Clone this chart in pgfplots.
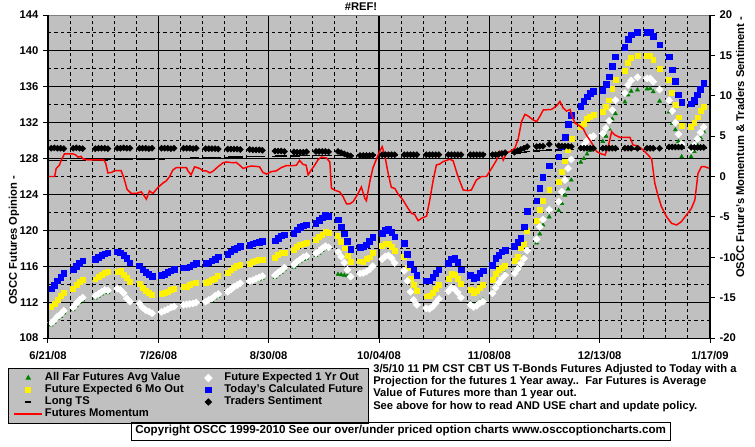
\documentclass[border=0pt]{standalone}
\usepackage{pgfplots}
\pgfplotsset{compat=1.18}
\usepackage{pgfplotstable}
\usepackage{fontspec}
\setmainfont{Liberation Sans}
\definecolor{silver}{HTML}{C0C0C0}
\definecolor{dgreen}{HTML}{008000}
\definecolor{bordergray}{HTML}{808080}
\newcommand{\lbl}{\fontsize{8.4}{10}\selectfont\bfseries}
\pgfplotsset{
 markleg/.style={legend image code/.code={\path[draw=none,fill=none] (0pt,-3pt) rectangle (21pt,3pt); \draw[##1] plot coordinates {(10.5pt,0pt)};}},
 lineleg/.style={legend image code/.code={\draw[##1] (0pt,0pt) -- (21pt,0pt);}},
}
\pgfplotstableread{
d b y w s t
1 113.5 111.5 109.7 3.5 127.75
2 113.9 111.85 110.0 3.55 127.75
3 114.4 112.3 110.4 3.5 127.76
4 114.8 112.7 110.65 3.5 127.77
5 115.2 113.05 111.05 3.45 127.78
8 115.6 113.5 111.4 3.5 127.8
9 116.0 113.9 111.85 3.55 127.8
10 116.3 114.25 112.25 3.5 127.81
11 116.6 114.45 112.5 3.45 127.82
15 116.8 114.55 112.7 3.45 127.84
16 117.0 114.85 112.9 3.5 127.84
17 117.2 115.1 113.15 3.5 127.85
18 117.4 115.3 113.35 3.5 127.85
19 117.5 115.35 113.3 3.45 127.86
22 117.6 115.4 113.5 3.5 127.88
23 117.5 115.45 113.35 3.5 127.88
24 117.25 115.1 113.0 3.55 127.89
25 116.9 114.75 112.4 3.5 127.9
26 116.4 114.25 112.05 3.5 127.9
29 116.05 114.0 111.85 3.5 127.92
30 115.6 113.55 111.4 3.5 127.92
31 115.3 113.25 111.1 3.5 127.93
32 115.1 113.05 110.95 3.45 127.93
33 114.85 112.8 110.75 3.5 127.94
36 115.0 112.95 110.9 3.5 127.96
37 115.1 113.0 111.05 3.5 127.97
38 115.3 113.15 111.2 3.5 127.98
39 115.5 113.35 111.4 3.45 127.99
40 115.65 113.45 111.5 3.5 128.0
43 115.85 113.7 111.7 3.5 128.02
44 115.85 113.72 111.75 3.5 128.03
45 115.95 113.9 111.8 3.5 128.04
46 116.15 114.1 111.85 3.45 128.05
47 116.3 114.2 111.95 3.5 128.06
50 116.3 114.15 112.05 3.45 128.08
51 116.4 114.3 112.25 3.45 128.09
52 116.6 114.45 112.4 3.45 128.1
53 116.8 114.65 112.7 3.45 128.11
54 117.05 114.9 112.9 3.4 128.12
57 117.3 115.3 113.15 3.4 128.15
58 117.6 115.55 113.4 3.4 128.16
59 117.9 115.85 113.7 3.4 128.17
60 118.05 116.0 113.9 3.4 128.18
61 118.2 116.2 114.1 3.35 128.19
64 118.35 116.3 114.35 3.35 128.2
65 118.5 116.5 114.45 3.3 128.21
66 118.6 116.6 114.6 3.3 128.22
67 118.7 116.7 114.75 3.3 128.23
68 118.75 116.75 114.9 3.25 128.24
72 118.85 116.95 115.0 3.15 128.26
73 119.1 117.25 115.3 3.15 128.27
74 119.4 117.45 115.55 3.15 128.27
75 119.5 117.55 115.85 3.1 128.28
78 119.65 117.8 116.15 3.05 128.3
79 120.05 118.2 116.5 3.0 128.3
80 120.35 118.35 116.75 3.0 128.31
81 120.5 118.55 117.0 3.0 128.31
82 120.6 118.6 117.15 3.05 128.32
85 120.8 119.0 117.45 3.1 128.33
86 121.1 119.3 117.7 3.1 128.33
87 121.4 119.55 118.0 3.1 128.34
88 121.7 119.85 118.25 3.1 128.34
89 121.6 119.7 118.1 3.05 128.35
92 121.2 119.4 117.6 3.1 128.35
93 120.4 118.7 117.05 2.95 128.36
94 119.6 118.0 116.4 2.8 128.36
95 118.75 117.2 115.6 2.65 128.37
96 117.9 116.45 114.85 2.55 128.37
99 118.1 116.55 115.2 2.6 128.38
100 118.15 116.5 115.25 2.6 128.38
101 118.4 116.8 115.4 2.6 128.39
102 118.75 117.0 115.65 2.6 128.39
103 119.2 117.45 116.0 2.65 128.4
106 119.7 118.3 116.8 2.7 128.4
107 120.0 118.5 117.1 2.7 128.4
108 120.1 118.5 117.2 2.7 128.41
109 119.8 118.15 116.9 2.7 128.41
110 119.3 117.75 116.35 2.7 128.41
113 118.55 117.1 115.5 2.7 128.42
114 117.3 115.8 114.35 2.7 128.42
115 116.2 114.65 113.15 2.7 128.42
116 115.6 113.9 112.25 2.7 128.43
117 115.0 113.25 111.7 2.7 128.43
120 114.4 112.65 111.3 2.7 128.43
121 114.4 112.75 111.25 2.7 128.44
122 114.8 113.0 111.5 2.7 128.44
123 115.2 113.5 111.9 2.7 128.44
124 115.6 113.9 112.35 2.7 128.45
127 116.3 114.65 113.2 2.7 128.45
128 116.75 115.2 113.6 2.7 128.46
129 116.9 115.0 113.45 2.7 128.46
130 116.45 114.65 113.05 2.7 128.46
131 115.6 114.0 112.5 2.7 128.47
134 115.0 113.4 111.7 2.7 128.47
135 114.65 113.0 111.45 2.7 128.48
136 114.75 113.3 111.6 2.7 128.48
137 115.2 113.65 111.9 2.7 128.49
138 115.5 113.9 112.05 2.7 128.49
141 116.1 114.45 113.0 2.7 128.5
142 116.9 115.2 113.6 2.7 128.5
143 117.25 115.65 114.15 2.75 128.51
144 117.6 115.8 114.65 2.85 128.52
145 117.8 116.0 115.0 2.95 128.53
148 118.2 116.6 115.2 3.0 128.55
149 118.65 117.05 115.7 3.2 128.6
150 119.1 118.1 116.3 3.35 128.65
151 120.4 118.55 116.85 3.5 128.7
152 122.1 120.0 117.75 3.7 128.75
155 123.3 121.1 119.0 3.7 128.85
156 124.7 122.3 120.4 3.75 128.9
157 125.9 123.3 121.2 3.75 128.92
159 127.2 124.5 122.3 4.0 128.95
162 128.2 125.4 123.2 3.8 128.97
163 129.3 126.5 124.3 3.75 128.98
164 130.4 127.7 125.6 3.75 129.0
165 131.8 129.0 126.9 3.75 129.0
166 132.8 130.2 127.9 3.7 129.0
169 133.8 131.5 129.1 3.5 129.0
170 134.4 131.9 129.5 3.5 129.0
171 134.9 132.4 130.0 3.5 129.02
172 135.3 132.7 130.35 3.5 129.02
173 135.5 132.85 130.5 3.5 129.02
176 135.6 133.2 130.8 3.5 129.03
177 136.3 133.8 131.4 3.5 129.03
178 137.1 134.5 132.2 3.5 129.04
179 138.3 135.8 133.4 3.5 129.04
180 139.35 136.75 134.5 3.5 129.05
183 140.4 137.8 135.3 3.5 129.05
184 141.3 138.7 136.2 3.5 129.06
185 141.8 139.25 136.7 3.5 129.06
187 142.1 139.46 137.05 3.5 129.07
190 142.06 139.43 136.94 3.5 129.07
191 142.14 139.45 136.94 3.5 129.08
192 141.6 139.0 136.57 3.5 129.08
194 140.7 138.0 135.7 3.5 129.09
197 139.35 136.75 134.5 3.65 129.1
198 137.9 135.3 133.3 3.65 129.1
199 136.6 134.0 132.0 3.65 129.1
200 135.1 132.6 130.7 3.65 129.1
201 134.3 131.65 129.6 3.65 129.1
204 134.1 131.55 129.0 3.6 129.1
205 134.5 132.0 129.5 3.6 129.1
206 135.1 132.6 130.2 3.6 129.1
207 135.75 133.3 130.9 3.6 129.1
208 136.4 133.8 131.5 3.6 129.1
}\datatab

\begin{document}
\begin{tikzpicture}
\useasboundingbox (0,0) rectangle (566.25pt,-334.5pt);
\fill[white] (0,0) rectangle (566.25pt,-334.5pt);
\begin{axis}[
 name=ax,
 at={(36pt,-253.5pt)}, anchor=south west, scale only axis,
 width=496.5pt, height=242.25pt,
 xmin=0, xmax=210, ymin=108, ymax=144,
 axis background/.style={fill=silver},
 axis line style={draw=none},
 xtick={0,35,...,210},
 xticklabels={6/21/08,7/26/08,8/30/08,10/04/08,11/08/08,12/13/08,1/17/09},
 minor xtick={7,14,...,203},
 ytick={108,112,...,144}, minor ytick={110,114,...,142},
 xtick pos=left, ytick pos=left,
 tick align=outside, major tick length=3.75pt, minor tick length=0pt,
 tick style={black, line width=0.75pt},
 grid=both,
 major x grid style={black, line width=1.2pt},
 minor x grid style={black, line width=0.75pt, dash pattern=on 2.6pt off 2.2pt},
 major y grid style={black, line width=0.75pt},
 minor y grid style={black, line width=0.75pt, dash pattern=on 2.6pt off 2.2pt},
 ticklabel style={font=\lbl},
 xticklabel style={yshift=-2.4pt},
 /pgf/number format/assume math mode=true,
]
\addplot[only marks, mark=-, mark size=2.3pt, mark options={black, line width=1pt}] table[x=d, y=t] {\datatab};
\addplot[only marks, mark=triangle*, mark size=1.7pt, mark options={draw=dgreen, fill=dgreen}] coordinates {
(1,109.45) (2,109.75) (3,110.15) (4,110.4) (5,110.8)
(8,111.15) (9,111.6) (10,112.0) (11,112.25)
(15,112.45) (16,112.65) (17,112.9) (18,113.1) (19,113.05)
(52,112.15) (53,112.45) (54,112.65)
(67,114.5) (68,114.65)
(72,114.75) (73,115.05) (74,115.3) (75,115.6)
(78,115.9) (79,116.25) (80,116.5) (81,116.75) (82,116.9)
(85,117.2) (86,117.45) (87,117.75) (88,118.0)
(92,115.1) (93,115.05) (94,115.0) (95,114.95)
(130,113.2) (131,112.7) (134,111.9) (135,111.65) (136,111.8) (137,112.1) (138,112.25)
(141,113.2) (142,113.8) (143,114.35) (144,114.85) (145,115.2)
(148,115.4) (149,115.9) (150,116.5) (151,117.0) (152,117.9)
(155,118.6) (156,119.6) (157,120.6) (159,121.5)
(162,122.2) (163,123.0) (164,123.9) (165,124.6) (166,125.6)
(169,127.6) (170,128.0) (171,128.5) (172,128.9) (173,129.1)
(176,129.9) (177,130.5) (178,131.3) (179,132.4) (180,133.0)
(183,134.3) (184,135.1) (185,135.5) (187,135.65)
(190,135.75) (191,135.8) (192,135.45) (194,134.4)
(197,133.2) (198,131.9) (199,131.2) (200,129.9) (201,128.2)
(204,128.2) (205,128.8) (206,129.5) (207,130.3) (208,131.0)
};
\addplot[only marks, mark=square*, mark size=1.85pt, mark options={draw=yellow, fill=yellow}] table[x=d, y=y] {\datatab};
\addplot[only marks, mark=square*, mark size=1.85pt, mark options={draw=white, fill=white, rotate=45}] table[x=d, y=w] {\datatab};
\addplot[only marks, mark=square*, mark size=2.1pt, mark options={draw=blue, fill=blue}] table[x=d, y=b] {\datatab};
\end{axis}
\begin{axis}[
 at={(36pt,-253.5pt)}, anchor=south west, scale only axis,
 width=496.5pt, height=242.25pt,
 xmin=0, xmax=210, ymin=-20, ymax=20,
 hide x axis,
 axis line style={draw=none},
 ytick={-20,-15,...,20}, ytick pos=right,
 tick align=outside, major tick length=3.75pt,
 tick style={black, line width=0.75pt},
 yticklabel style={font=\lbl},
 /pgf/number format/assume math mode=true,
 legend columns=2,
 legend cell align=left,
 legend style={at={(-0.0604,-0.0929)}, anchor=north west, fill=silver, draw=black, line width=0.75pt,
   font=\lbl, inner xsep=3.75pt, inner ysep=2.6pt, row sep=0pt,
   nodes={inner xsep=0pt, inner ysep=0.7pt, text height=5.9pt, text depth=1.7pt},
   /tikz/column 1/.style={column sep=1.5pt},
   /tikz/column 2/.style={column sep=8pt},
   /tikz/column 3/.style={column sep=1.5pt}},
]
\addplot[forget plot, red, line width=1.1pt] table {
0 0.0
2.1 0.0
2.6 1.0
3.6 1.4
4.2 2.0
5.2 2.8
7.9 2.8
8.9 2.65
9.5 2.4
10.5 2.5
11.0 2.2
12.6 2.05
17.7 2.05
18.3 1.65
19.0 0.45
20.1 0.5
21.1 0.72
23.2 0.72
24.1 -0.2
25.1 -1.6
26.4 -2.1
28.0 -2.1
29.6 -1.9
30.6 -2.45
31.2 -2.8
32.2 -1.8
33.3 -2.1
34.9 -1.35
36.5 -0.8
37.5 -0.55
38.6 0.0
39.6 0.8
40.7 1.1
43.9 1.1
44.4 0.7
45.4 0.2
46.5 1.2
48.1 1.0
49.2 0.7
50.2 0.7
51.3 0.45
52.3 0.65
53.9 1.2
55.5 1.7
56.6 1.8
58.7 1.7
59.7 1.75
60.8 1.4
61.9 1.0
63.4 1.2
64.5 1.3
66.1 1.25
67.1 1.2
68.2 0.5
69.3 0.3
70.8 0.6
72.4 0.7
74.0 1.1
75.6 1.35
77.7 1.35
78.8 1.4
79.8 2.0
80.9 1.5
81.9 1.4
82.5 0.2
83.5 0.8
84.6 1.4
85.7 2.1
86.7 2.4
88.3 2.3
89.4 1.8
89.9 -1.45
91.0 -1.7
92.5 -1.9
93.6 -2.5
94.7 -3.4
95.7 -3.4
96.8 -3.1
98.4 -2.1
99.4 -1.3
100.5 -2.7
101.0 -3.0
102.1 -0.6
103.1 1.1
104.7 2.66
106.0 3.7
106.8 2.66
107.9 0.4
108.9 -1.34
110.0 -1.47
111.1 -2.2
112.6 -2.9
114.2 -3.94
115.3 -4.56
116.3 -4.69
117.4 -5.47
118.5 -5.18
120.1 -4.9
121.1 -2.9
122.2 -0.43
123.2 1.42
124.3 1.55
125.3 1.84
127.4 2.13
128.5 1.96
130.0 0.06
131.7 -1.67
133.3 -1.75
134.3 -1.67
135.9 -0.43
137.5 0.0
139.1 0.0
140.7 1.0
142.3 2.04
143.3 3.08
143.9 2.66
144.4 2.04
145.5 2.95
146.5 3.08
148.1 3.49
149.2 4.73
150.2 6.79
151.3 7.7
152.3 7.49
153.9 7.0
155.0 6.79
156.1 7.5
157.1 8.24
159.7 8.3
161.3 8.73
162.4 9.3
163.4 8.5
164.5 8.1
165.6 8.3
166.4 7.3
167.2 6.6
168.5 6.3
169.8 5.9
170.8 5.14
172.4 4.2
174.0 3.1
175.6 2.79
176.7 2.66
177.7 3.69
178.8 5.55
179.8 5.14
181.4 4.85
184.6 4.85
185.6 3.9
187.2 3.78
188.8 3.28
190.4 2.66
191.5 2.13
192.5 -0.85
193.6 -2.5
194.6 -3.74
196.2 -4.97
197.8 -5.8
199.4 -6.0
200.9 -5.6
202.5 -4.77
204.1 -3.94
205.2 -2.91
206.2 0.39
207.3 1.22
208.3 1.22
209.9 1.0
};
\addplot[forget plot, only marks, mark=square*, mark size=1.6pt, mark options={draw=black, fill=black, rotate=45}] table[x=d, y=s] {\datatab};
\addlegendimage{only marks, mark=triangle*, mark size=1.7pt, mark options={draw=dgreen, fill=dgreen}, markleg}
\addlegendentry{All Far Futures Avg Value}
\addlegendimage{only marks, mark=square*, mark size=1.85pt, mark options={draw=white, fill=white, rotate=45}, markleg}
\addlegendentry{Future Expected 1 Yr Out}
\addlegendimage{only marks, mark=square*, mark size=1.85pt, mark options={draw=yellow, fill=yellow}, markleg}
\addlegendentry{Future Expected 6 Mo Out}
\addlegendimage{only marks, mark=square*, mark size=2.1pt, mark options={draw=blue, fill=blue}, markleg}
\addlegendentry{Today's Calculated Future}
\addlegendimage{only marks, mark=-, mark size=2.3pt, mark options={black, line width=1pt}, markleg}
\addlegendentry{Long TS}
\addlegendimage{only marks, mark=square*, mark size=1.6pt, mark options={draw=black, fill=black, rotate=45}, markleg}
\addlegendentry{Traders Sentiment}
\addlegendimage{red, line width=1.1pt, lineleg}
\addlegendentry{Futures Momentum}
\end{axis}
\draw[bordergray, line width=0.75pt] (ax.north west) -- (ax.north east);
\draw[black, line width=0.75pt] (ax.north west) -- (ax.south west) -- (ax.south east);
\draw[black, line width=1.2pt] (ax.south east) -- (ax.north east);
\begin{scope}[x=0.75pt, y=-0.75pt, every node/.style={font=\lbl, inner sep=0pt}]
\node at (361,7) {\#REF!};
\node[rotate=90, anchor=west] at (14,305) {OSCC Futures Opinion -};
\node[rotate=90, anchor=west] at (740,278) {OSCC Future's Momentum \& Traders Sentiment -};
\node[anchor=west] at (373,369.5) {3/5/10 11 PM CST CBT US T-Bonds Futures Adjusted to Today with a};
\node[anchor=west] at (373,381.8) {Projection for the futures 1 Year away..\ \ Far Futures is Average};
\node[anchor=west] at (373,394) {Value of Futures more than 1 year out.};
\node[anchor=west] at (373,406.3) {See above for how to read AND USE chart and update policy.};
\draw[black, line width=0.75pt] (131.5,422) rectangle (670,440);
\node[anchor=west, font=\fontsize{8.7}{10}\selectfont\bfseries] at (135,431) {Copyright OSCC 1999-2010 See our over/under priced option charts www.osccoptioncharts.com};
\end{scope}
\end{tikzpicture}
\end{document}
